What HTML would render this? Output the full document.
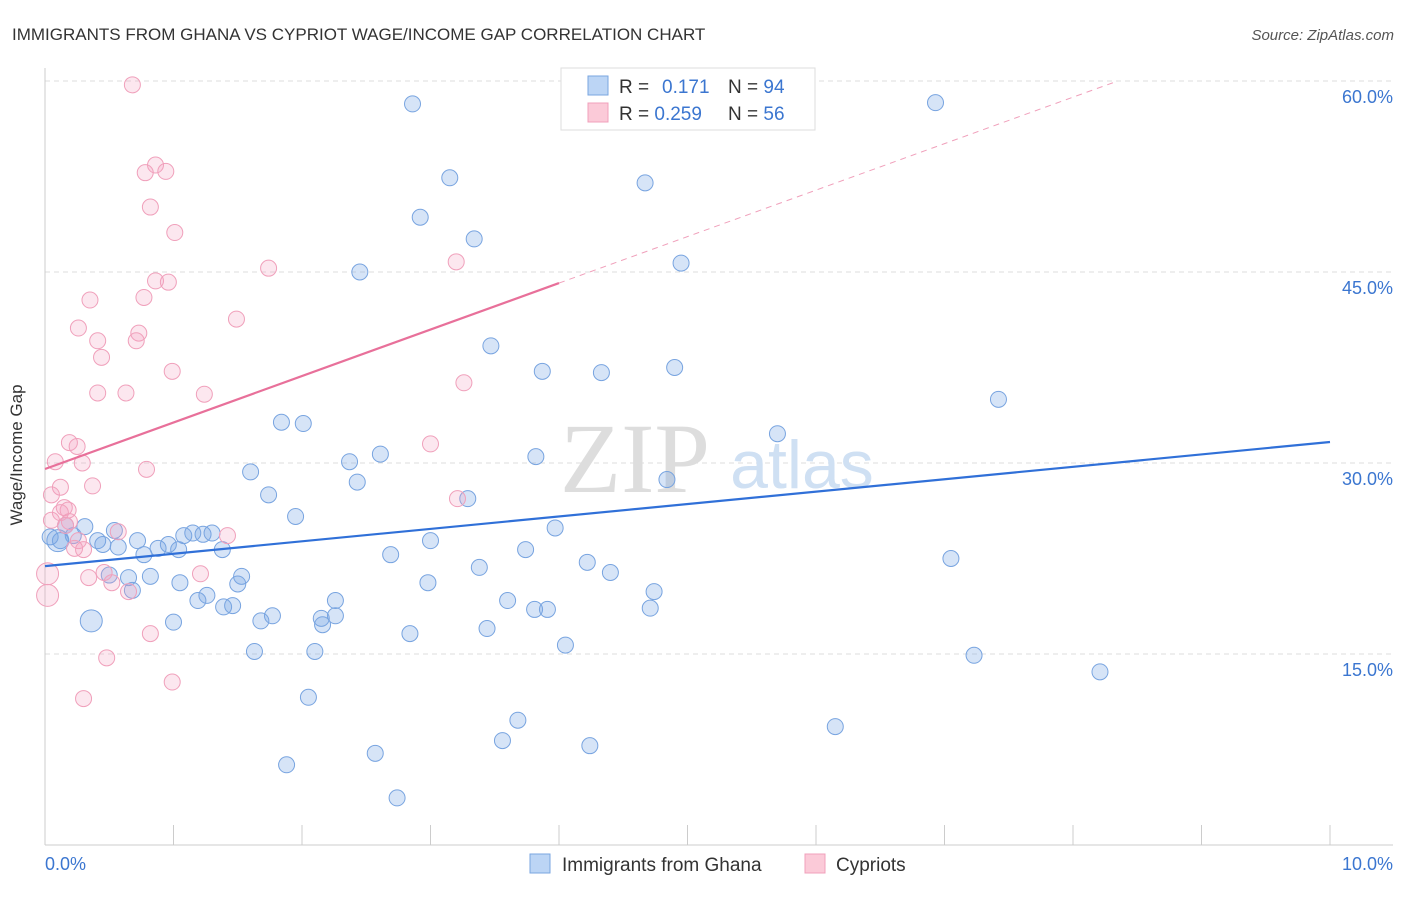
<!DOCTYPE html>
<html><head><meta charset="utf-8"><style>
body{margin:0;background:#fff;font-family:"Liberation Sans",sans-serif}
svg text{font-family:"Liberation Sans",sans-serif}
</style></head><body>
<svg id="chart" width="1406" height="892" xmlns="http://www.w3.org/2000/svg">
<text x="12" y="40" font-size="17" fill="#333">IMMIGRANTS FROM GHANA VS CYPRIOT WAGE/INCOME GAP CORRELATION CHART</text>
<text x="1394" y="40" font-size="15" fill="#555" font-style="italic" text-anchor="end">Source: ZipAtlas.com</text>
<g id="grid"></g>
<text x="635" y="492" font-size="100" fill="#ddd" text-anchor="middle" style="font-family:'Liberation Serif',serif">ZIP</text>
<text x="802" y="488" font-size="68" fill="#cfe0f3" text-anchor="middle">atlas</text>
<g id="pts"></g>
<g id="lines"></g>
<text x="22" y="455" font-size="17" fill="#333" transform="rotate(-90 22 455)" text-anchor="middle">Wage/Income Gap</text>
<g>
<rect x="561" y="68" width="254" height="62" fill="#fff" stroke="#ddd"/>
<rect x="588" y="76" width="20" height="19" fill="#bcd5f5" stroke="#7aa6e0"/>
<rect x="588" y="103" width="20" height="19" fill="#fbcad8" stroke="#f0a0bb"/>
<text x="619" y="93" font-size="19" fill="#333">R = <tspan x="662" fill="#3b76d0">0.171</tspan></text>
<text x="728" y="93" font-size="19" fill="#333">N = <tspan fill="#3b76d0">94</tspan></text>
<text x="619" y="120" font-size="19" fill="#333">R = <tspan fill="#3b76d0">0.259</tspan></text>
<text x="728" y="120" font-size="19" fill="#333">N = <tspan fill="#3b76d0">56</tspan></text>
</g>
<g>
<rect x="530" y="854" width="20" height="19" fill="#bcd5f5" stroke="#7aa6e0"/>
<text x="562" y="871" font-size="19" fill="#333">Immigrants from Ghana</text>
<rect x="805" y="854" width="20" height="19" fill="#fbcad8" stroke="#f0a0bb"/>
<text x="836" y="871" font-size="19" fill="#333">Cypriots</text>
</g>
</svg>
<script>
const yTicks=[15,30,45,60];
const yTickLabels=["15.0%","30.0%","45.0%","60.0%"];
const xTickLabels=["0.0%","10.0%"];
const ghanaX=[2.86,6.93,3.15,4.67,2.92,3.34,2.45,4.95,3.47,3.87,4.33,4.90,7.42,5.70,1.84,2.01,2.37,2.61,3.82,1.60,2.43,1.74,3.29,4.84,1.95,3.97,.31,.54,.16,.12,.04,.22,.41,.45,.57,.72,.88,.96,1.08,1.15,1.23,1.30,1.38,.77,1.04,3.00,2.69,3.74,4.22,7.05,3.38,4.40,.50,.65,.82,1.05,1.53,1.50,2.98,4.74,.68,1.26,1.19,2.26,3.60,3.81,3.91,4.71,1.39,1.46,1.00,1.68,1.77,2.15,2.26,2.16,3.44,.36,2.84,4.05,1.63,2.10,7.23,8.21,2.05,3.68,6.15,3.56,2.57,4.24,1.88,2.74,.10];
const ghanaY=[58.2,58.3,52.4,52.0,49.3,47.6,45.0,45.7,39.2,37.2,37.1,37.5,35.0,32.3,33.2,33.1,30.1,30.7,30.5,29.3,28.5,27.5,27.2,28.7,25.8,24.9,25.0,24.7,25.1,23.9,24.2,24.3,23.9,23.6,23.4,23.9,23.3,23.6,24.3,24.5,24.4,24.5,23.2,22.8,23.2,23.9,22.8,23.2,22.2,22.5,21.8,21.4,21.2,21.0,21.1,20.6,21.1,20.5,20.6,19.9,20.0,19.6,19.2,19.2,19.2,18.5,18.5,18.6,18.7,18.8,17.5,17.6,18.0,17.8,18.0,17.3,17.0,17.6,16.6,15.7,15.2,15.2,14.9,13.6,11.6,9.8,9.3,8.2,7.2,7.8,6.3,3.7,23.9];
const ghanaBig=[77,92];
const cypX=[.68,.86,.94,.78,.82,1.01,1.74,3.20,.86,.96,.35,.77,1.49,.26,.73,.71,.41,.44,.99,3.26,.41,.63,1.24,.19,.25,3.00,.08,.29,.79,.12,.37,.05,3.21,.15,.18,.12,.19,.16,.57,1.42,.26,.30,.23,.46,.34,1.21,.02,.52,.65,.02,.82,.48,.99,.30,.05];
const cypY=[59.7,53.4,52.9,52.8,50.1,48.1,45.3,45.8,44.3,44.2,42.8,43.0,41.3,40.6,40.2,39.6,39.6,38.3,37.2,36.3,35.5,35.5,35.4,31.6,31.3,31.5,30.1,30.0,29.5,28.1,28.2,27.5,27.2,26.5,26.3,26.1,25.4,25.1,24.6,24.3,23.9,23.2,23.3,21.4,21.0,21.3,21.3,20.6,19.9,19.6,16.6,14.7,12.8,11.5,25.5];
const cypBig=[46,49];
const ghanaLine=[21.9,31.65];
const cypLine=[29.53,3.65];
const NS="http://www.w3.org/2000/svg";
const X=v=>45+v*128.5, Y=v=>845-v*191/15;
function mk(t,a,p){const e=document.createElementNS(NS,t);for(const k in a)e.setAttribute(k,a[k]);p.appendChild(e);return e;}
const grid=document.getElementById('grid');
yTicks.forEach((t,i)=>{
 const l=mk('line',{x1:45,x2:1393,y1:Y(t),y2:Y(t),stroke:'#ddd','stroke-dasharray':'5,4'},grid);
 
 
 const tx=mk('text',{x:1393,y:Y(t)+22,'font-size':18,fill:'#3b76d0','text-anchor':'end'},grid);
 tx.textContent=yTickLabels[i];
 
 
});
const ax=mk('line',{x1:45,x2:1393,y1:845,y2:845,stroke:'#ccc'},grid);


const yax=mk('line',{x1:45,x2:45,y1:68,y2:845,stroke:'#ccc'},grid);


for(let i=0;i<=10;i++){
 const t=mk('line',{x1:X(i),x2:X(i),y1:825,y2:845,stroke:'#ccc'},grid);
 
 
}
[[0,xTickLabels[0],'start',45],[10,xTickLabels[1],'end',1393]].forEach(a=>{
 const t=mk('text',{x:a[3],y:870,'font-size':18,fill:'#3b76d0','text-anchor':a[2]},grid);
 t.textContent=a[1];
 
 
});
const pts=document.getElementById('pts');
ghanaX.forEach((x,i)=>{
 const c=mk('circle',{cx:X(x),cy:Y(ghanaY[i]),r:ghanaBig.includes(i)?11:8,fill:'rgba(120,165,230,0.3)',stroke:'#78a4e0','stroke-width':1},pts);
 
 
});
cypX.forEach((x,i)=>{
 const c=mk('circle',{cx:X(x),cy:Y(cypY[i]),r:cypBig.includes(i)?11:8,fill:'rgba(245,160,190,0.25)',stroke:'#f0a0bb','stroke-width':1},pts);
 
 
});
const lines=document.getElementById('lines');
const gl=mk('line',{x1:X(0),y1:Y(ghanaLine[0]),x2:X(10),y2:Y(ghanaLine[1]),stroke:'#3070d8','stroke-width':2.2},lines);


const cs=mk('line',{x1:X(0),y1:Y(cypLine[0]),x2:X(4),y2:Y(cypLine[0]+4*cypLine[1]),stroke:'#e8709a','stroke-width':2.2},lines);


const xe=(60-cypLine[0])/cypLine[1];
const cd=mk('line',{x1:X(4),y1:Y(cypLine[0]+4*cypLine[1]),x2:X(xe),y2:Y(60),stroke:'#f0a0bb','stroke-width':1,'stroke-dasharray':'6,5'},lines);


</script>
</body></html>
